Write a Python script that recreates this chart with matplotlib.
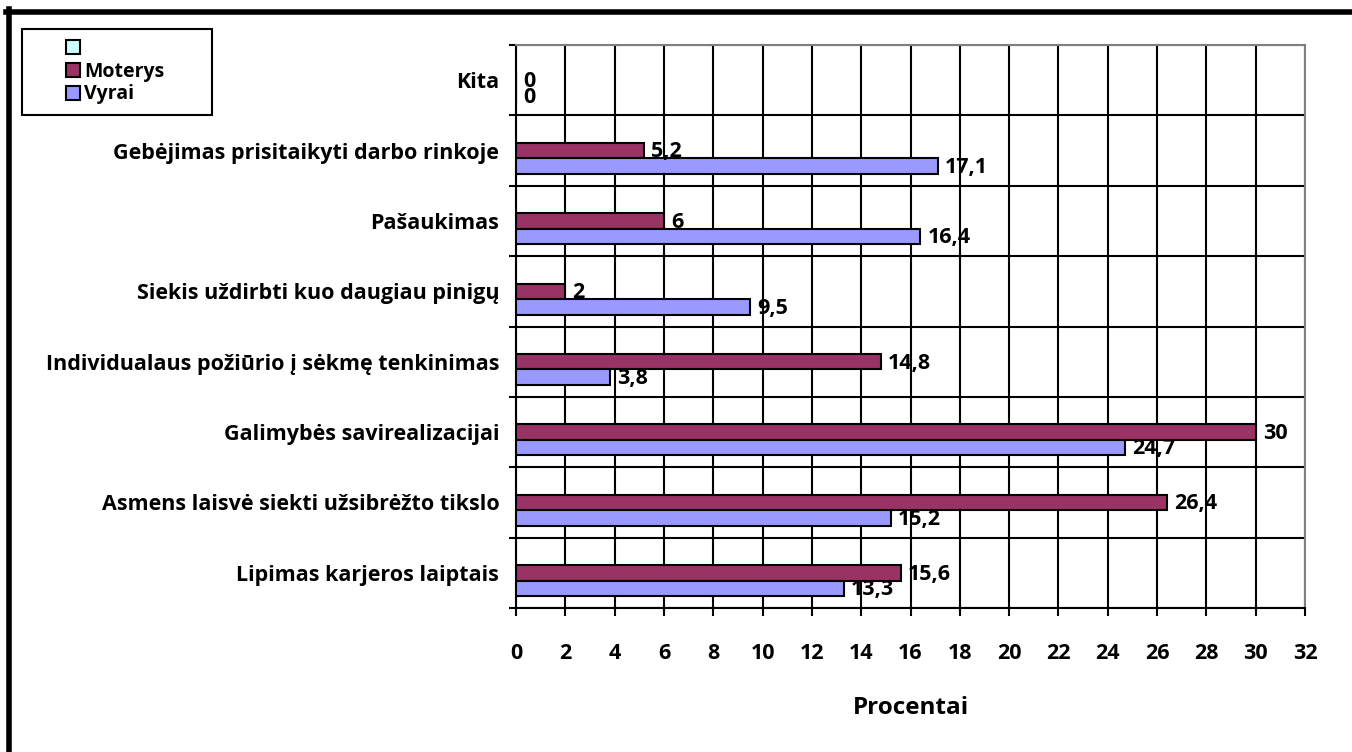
import matplotlib
matplotlib.use("Agg")
import matplotlib.pyplot as plt
import numpy as np
from matplotlib.patches import Patch, Rectangle
from matplotlib.lines import Line2D

# data, listed bottom to top as drawn
categories = [
    "Lipimas karjeros laiptais",
    "Asmens laisvė siekti užsibrėžto tikslo",
    "Galimybės savirealizacijai",
    "Individualaus požiūrio į sėkmę tenkinimas",
    "Siekis uždirbti kuo daugiau pinigų",
    "Pašaukimas",
    "Gebėjimas prisitaikyti darbo rinkoje",
    "Kita",
]
moterys = [15.6, 26.4, 30, 14.8, 2, 6, 5.2, 0]
vyrai = [13.3, 15.2, 24.7, 3.8, 9.5, 16.4, 17.1, 0]
series_names = ["", "Moterys", "Vyrai"]
xticks = list(range(0, 33, 2))

plt.rcParams["font.family"] = ["Open Sans", "DejaVu Sans"]
plt.rcParams["font.weight"] = "bold"

COL_EMPTY = "#CCFFFF"
COL_M = "#993366"
COL_V = "#9999FF"
FS = 15.5

fig = plt.figure(figsize=(13.52, 7.52), dpi=100)
ax = fig.add_axes([516 / 1352, 1 - 608 / 752, (1305 - 516) / 1352, (608 - 45) / 752])

y = np.arange(len(categories))
h = 0.22
ax.barh(y, moterys, height=h, color=COL_M, edgecolor="black", linewidth=1.5, zorder=3)
ax.barh(y - h, vyrai, height=h, color=COL_V, edgecolor="black", linewidth=1.5, zorder=3)


def fmt(v):
    return f"{v:g}".replace(".", ",")


for yi, m, v in zip(y, moterys, vyrai):
    ax.annotate(fmt(m), (m, yi), xytext=(5, -1), textcoords="offset points",
                ha="left", va="center", fontsize=FS, fontweight="bold", zorder=4)
    ax.annotate(fmt(v), (v, yi - h), xytext=(5, -1), textcoords="offset points",
                ha="left", va="center", fontsize=FS, fontweight="bold", zorder=4)

ax.set_xlim(0, 32)
ax.set_ylim(-0.5, len(categories) - 0.5)
ax.set_xticks(xticks)
ax.set_xticklabels([str(t) for t in xticks], fontsize=FS, fontweight="bold")
ax.set_yticks(y)
ax.set_yticklabels(categories, fontsize=FS, fontweight="bold")
ax.set_yticks(np.arange(len(categories) + 1) - 0.5, minor=True)
ax.tick_params(axis="y", which="major", length=0, pad=12)
ax.tick_params(axis="y", which="minor", length=5, width=1.5, direction="out")
ax.tick_params(axis="x", length=6, width=1.5, direction="out", pad=19)

ax.grid(axis="x", which="major", color="black", linewidth=1.5, zorder=1)
ax.grid(axis="y", which="minor", color="black", linewidth=1.5, zorder=1)
ax.set_axisbelow(True)

for s in ["left", "bottom"]:
    ax.spines[s].set_color("black")
    ax.spines[s].set_linewidth(1.5)
for s in ["top", "right"]:
    ax.spines[s].set_color("#808080")
    ax.spines[s].set_linewidth(1.5)

ax.set_xlabel("Procentai", fontsize=17.5, fontweight="bold", labelpad=23)

# legend with its own frame
fig.add_artist(Rectangle((22 / 1352, 1 - 115 / 752), 190 / 1352, 86 / 752,
                         transform=fig.transFigure, facecolor="white",
                         edgecolor="black", linewidth=1.5))
handles = [Patch(facecolor=c, edgecolor="black", linewidth=1.5)
           for c in [COL_EMPTY, COL_M, COL_V]]
fig.legend(handles, series_names, loc="upper left",
           bbox_to_anchor=(52 / 1352, 1 - 25 / 752), frameon=False,
           handlelength=0.75, handleheight=0.75,
           handletextpad=0.2, labelspacing=0.15, borderpad=0.2,
           prop={"weight": "bold", "size": 14})

# outer border (top and left only)
fig.add_artist(Line2D([6 / 1352, 1], [1 - 11.5 / 752, 1 - 11.5 / 752],
                      transform=fig.transFigure, color="black", linewidth=4))
fig.add_artist(Line2D([9 / 1352, 9 / 1352], [0, 1 - 9 / 752],
                      transform=fig.transFigure, color="black", linewidth=4))

fig.savefig("out.png", dpi=100)
